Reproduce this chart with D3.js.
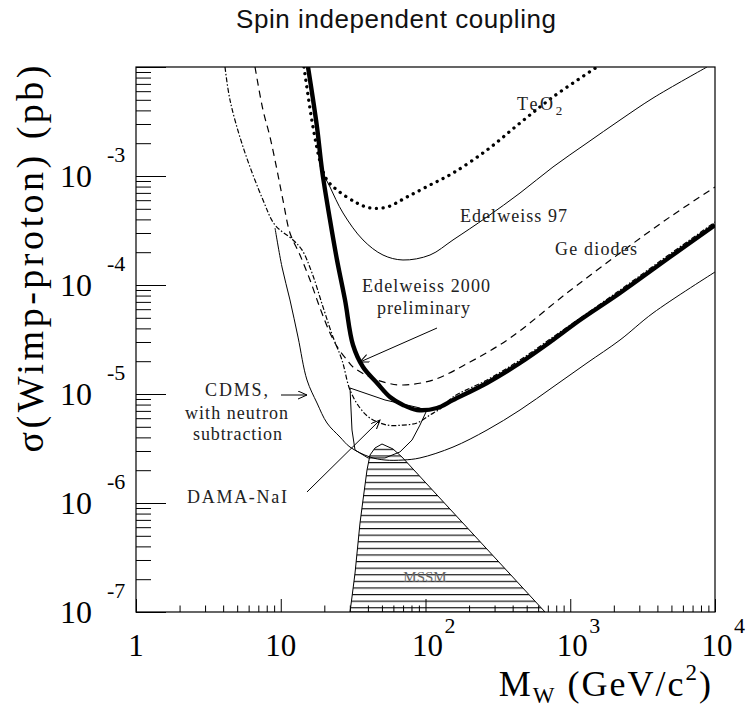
<!DOCTYPE html>
<html><head><meta charset="utf-8">
<script src="https://cdn.jsdelivr.net/npm/d3@7/dist/d3.min.js"></script>
<style>body{margin:0;background:#fff}svg{display:block}</style>
</head><body>
<svg id="c" width="753" height="711"></svg>
<script>
// ---------- data ----------
const massMajorTicks = [1, 10, 100, 1000, 10000];
const xTickLabels = [["1",""],["10",""],["10","2"],["10","3"],["10","4"]];
const sigmaMajorTicks = [1e-3, 1e-4, 1e-5, 1e-6, 1e-7];
const yTickLabels = [["10","-3"],["10","-4"],["10","-5"],["10","-6"],["10","-7"]];

// [WIMP mass (GeV/c^2), cross-section (pb)]
const teo2 = [[14.47,1e-2],[16.7,2.815e-3],[18.97,1.262e-3],[20.87,9.19e-4],[24.47,7.44e-4],[33.63,5.65e-4],[41.36,5.09e-4],[54.2,5.19e-4],[74.5,6.42e-4],[107.4,8.27e-4],[154.9,1.065e-3],[266,1.732e-3],[449.7,3.06e-3],[760,5.31e-3],[1530,1e-2]];
const edelweiss97 = [[15.18,1e-2],[17.52,2.815e-3],[19.59,1.088e-3],[21.89,7.93e-4],[26.92,4.58e-4],[37.01,2.59e-4],[50.86,1.884e-4],[69.9,1.696e-4],[107.4,1.884e-4],[154.9,2.59e-4],[266,4.21e-4],[449.7,6.98e-4],[760,1.21e-3],[1305,2.008e-3],[2207,3.26e-3],[3730,5.19e-3],[8806,1e-2]];
const geDiodes = [[6.64,1e-2],[7.54,4.03e-3],[8.43,2.28e-3],[9.42,1.135e-3],[10.36,6.02e-4],[11.58,3.0e-4],[13.58,1.884e-4],[15.93,1.111e-4],[18.67,6.15e-5],[21.89,3.63e-5],[24.86,2.64e-5],[28.7,2.05e-5],[31.56,1.768e-5],[41.36,1.432e-5],[54.2,1.262e-5],[69.9,1.21e-5],[112.7,1.344e-5],[203,1.966e-5],[383.6,3.26e-5],[949.5,8.45e-5],[2207,1.966e-4],[4888,4.21e-4],[10000,7.93e-4]];
const edelweiss2000 = [[15.43,1e-2],[17.8,2.815e-3],[19.28,1.135e-3],[21.89,3.95e-4],[24.47,1.696e-4],[27.79,7.29e-5],[31.56,2.815e-5],[37.01,1.768e-5],[46.24,1.262e-5],[56.85,9.39e-6],[69.9,7.93e-6],[87.4,7.13e-6],[120.1,7.44e-6],[154.9,8.81e-6],[266,1.262e-5],[449.7,1.925e-5],[760,3.13e-5],[1168,4.77e-5],[2207,8.45e-5],[4888,1.806e-4],[10000,3.55e-4]];
const dashDotLimit = [[4.12,1e-2],[4.46,4.98e-3],[5.49,1.846e-3],[7.54,6.02e-4],[9.13,3.55e-4],[12.15,2.59e-4],[14.02,2.1e-4],[16.44,1.29e-4],[19.59,6.28e-5],[22.96,3.33e-5],[26.49,2.05e-5],[30.09,1.088e-5],[35.28,7.44e-6],[41.36,6.02e-6],[54.2,5.19e-6],[69.9,5.19e-6],[87.4,5.42e-6],[107.4,6.42e-6],[126,7.3e-6],[154.9,9.39e-6],[266,1.344e-5],[449.7,2.05e-5],[760,3.33e-5],[2207,8.99e-5],[4888,1.925e-4],[10000,3.78e-4]];
const cdmsNeutronSub = [[9.13,3.33e-4],[10.2,1.463e-4],[11.58,7.29e-5],[13.16,3.33e-5],[15.18,1.344e-5],[17.8,8.27e-6],[20.87,5.42e-6],[25.67,4.03e-6],[30.09,3.26e-6],[41.36,2.64e-6],[52.5,2.48e-6],[69.9,2.48e-6],[91.6,2.59e-6],[154.9,3.26e-6],[266,4.67e-6],[449.7,7.13e-6],[760,1.159e-5],[1305,1.925e-5],[2207,3.13e-5],[3730,5.53e-5],[10000,1.316e-4]];
const damaNaI = [[30.09,1.135e-5],[52.5,8.81e-6],[91.6,7.44e-6],[100.8,6.84e-6],[91.6,5.19e-6],[80.7,3.78e-6],[66.6,2.94e-6],[52.5,2.59e-6],[40.07,2.59e-6],[32.6,3.06e-6],[31.06,4.67e-6],[30.09,1.135e-5]];
const mssm = [[30.09,1e-7],[31.06,1.373e-7],[32.6,2.28e-7],[35.28,6.55e-7],[37.01,1.065e-6],[39.44,2.008e-6],[41.36,2.757e-6],[44.79,3.196e-6],[50.06,3.477e-6],[59.65,3.13e-6],[68.8,2.64e-6],[669.4,1e-7]];
// annotation arrows [from, to]
const arrowEdelweiss2000 = [[120.1,4.03e-5],[35.28,1.966e-5]];
const arrowCDMS = [[10.04,9.79e-6],[15.18,9.79e-6]];
const arrowDAMA = [[15.18,1.262e-6],[48.5,5.77e-6]];

// ---------- layout ----------
const L = 136, R = 715, T = 67, B = 612;
const svg = d3.select("#c");
const x = d3.scaleLog().domain([1, 1e4]).range([L, R]);
const y = d3.scaleLog().domain([1e-7, 1e-2]).range([B, T]);
const serif = "'Liberation Serif','Times New Roman',serif";

const defs = svg.append("defs");
defs.append("clipPath").attr("id","clip").append("rect")
  .attr("x",L).attr("y",T).attr("width",R-L).attr("height",B-T);
const pat = defs.append("pattern").attr("id","hatch").attr("patternUnits","userSpaceOnUse")
  .attr("width",10).attr("height",6.6);
pat.append("line").attr("x1",0).attr("x2",10).attr("y1",0.6).attr("y2",0.6)
  .attr("stroke","#000").attr("stroke-width",1.1);
defs.append("marker").attr("id","ah").attr("markerUnits","userSpaceOnUse")
  .attr("markerWidth",12).attr("markerHeight",12).attr("refX",9).attr("refY",4)
  .attr("orient","auto")
  .append("path").attr("d","M0,0 L9,4 L0,8").attr("fill","none").attr("stroke","#000").attr("stroke-width",1);

// title
svg.append("text").attr("x",236).attr("y",28)
  .attr("font-family","'Liberation Sans',Arial,sans-serif").attr("font-size",26)
  .attr("font-weight",300)
  .attr("textLength",320).attr("lengthAdjust","spacing").attr("fill","#111")
  .text("Spin independent coupling");

const g = svg.append("g").attr("clip-path","url(#clip)");

// MSSM region
g.append("path").datum(mssm)
  .attr("d", d3.line().x(d=>x(d[0])).y(d=>y(d[1])).curve(d3.curveLinearClosed))
  .attr("fill","url(#hatch)").attr("stroke","#000").attr("stroke-width",1);

const smooth = d3.line().x(d=>x(d[0])).y(d=>y(d[1])).curve(d3.curveCatmullRom.alpha(0.5));
const curves = [
  {data: dashDotLimit, w:1.2, dash:"5,2,1.5,2"},
  {data: geDiodes, w:1.2, dash:"7,5"},
  {data: cdmsNeutronSub, w:1},
  {data: edelweiss97, w:1},
  {data: damaNaI, w:1, linear:true},
  {data: teo2, w:3.3, dash:"0.1,6.6", cap:"round"},
  {data: edelweiss2000, w:4.4}
];
const lin = d3.line().x(d=>x(d[0])).y(d=>y(d[1]));
curves.forEach(c => {
  g.append("path").datum(c.data)
    .attr("d", c.linear ? lin : smooth)
    .attr("fill","none").attr("stroke","#000").attr("stroke-width",c.w)
    .attr("stroke-dasharray", c.dash || null)
    .attr("stroke-linecap", c.cap || "butt").attr("stroke-linejoin","round");
});

// arrows
[arrowEdelweiss2000, arrowCDMS, arrowDAMA].forEach(a => {
  svg.append("line").attr("x1",x(a[0][0])).attr("y1",y(a[0][1]))
    .attr("x2",x(a[1][0])).attr("y2",y(a[1][1]))
    .attr("stroke","#000").attr("stroke-width",1).attr("marker-end","url(#ah)");
});

// frame
svg.append("rect").attr("x",L).attr("y",T).attr("width",R-L).attr("height",B-T)
  .attr("fill","none").attr("stroke","#000").attr("stroke-width",1.2);

// axes (ticks inside)
const isMajor = v => Math.abs(Math.log10(v) - Math.round(Math.log10(v))) < 1e-9;
const yMinor = y.ticks().filter(v => !isMajor(v));
const yMajor = y.ticks().filter(v => isMajor(v));
const xMinor = x.ticks().filter(v => !isMajor(v));
const xMajor = x.ticks().filter(v => isMajor(v));
function styleAxis(sel){ sel.select(".domain").remove(); sel.selectAll("line").attr("stroke","#000").attr("stroke-width",1); sel.selectAll("text").remove(); }
svg.append("g").attr("transform",`translate(${L},0)`).call(d3.axisRight(y).tickValues(yMinor).tickSize(15).tickFormat("")).call(styleAxis);
svg.append("g").attr("transform",`translate(${L},0)`).call(d3.axisRight(y).tickValues(yMajor).tickSize(30).tickFormat("")).call(styleAxis);
svg.append("g").attr("transform",`translate(0,${B})`).call(d3.axisTop(x).tickValues(xMinor).tickSize(6.5).tickFormat("")).call(styleAxis);
svg.append("g").attr("transform",`translate(0,${B})`).call(d3.axisTop(x).tickValues(xMajor).tickSize(13).tickFormat("")).call(styleAxis);

// y tick labels
sigmaMajorTicks.forEach((v,i) => {
  const py = y(v);
  svg.append("text").attr("x",92).attr("y",py+11).attr("text-anchor","end")
    .attr("font-family",serif).attr("font-size",32).text(yTickLabels[i][0]);
  svg.append("text").attr("x",107).attr("y",py-14)
    .attr("font-family",serif).attr("font-size",22).text(yTickLabels[i][1]);
});
// x tick labels
massMajorTicks.forEach((v,i) => {
  const px = x(v) + (i>=2 ? 2 : 0);
  svg.append("text").attr("x",px).attr("y",656).attr("text-anchor","middle")
    .attr("font-family",serif).attr("font-size",31).text(xTickLabels[i][0]);
  if (xTickLabels[i][1]) svg.append("text").attr("x",px+17).attr("y",633)
    .attr("font-family",serif).attr("font-size",22).text(xTickLabels[i][1]);
});

// axis titles
const xt = svg.append("text").attr("x",713).attr("y",696).attr("text-anchor","end")
  .attr("font-family",serif).attr("font-size",36).attr("letter-spacing",2);
xt.append("tspan").text("M");
xt.append("tspan").attr("font-size",23).attr("dy",7).text("W");
xt.append("tspan").attr("dy",-7).text(" (GeV/c");
xt.append("tspan").attr("font-size",23).attr("dy",-16).text("2");
xt.append("tspan").attr("dy",16).text(")");

svg.append("text").attr("transform","translate(43,259) rotate(-90)")
  .attr("text-anchor","middle").attr("font-family",serif).attr("font-size",38)
  .attr("textLength",387).attr("lengthAdjust","spacing")
  .text("σ(Wimp-proton) (pb)");

// annotations
const notes = [
  {t:"Edelweiss 97", x:460, y:222, len:107},
  {t:"Ge diodes", x:555, y:255, len:82},
  {t:"Edelweiss 2000", x:362, y:292, len:128},
  {t:"preliminary", x:377, y:314, len:93},
  {t:"CDMS,", x:205, y:396, len:63},
  {t:"with neutron", x:185, y:419, len:103},
  {t:"subtraction", x:193, y:440, len:89},
  {t:"DAMA-NaI", x:187, y:503, len:100}
];
notes.forEach(n => svg.append("text").attr("x",n.x).attr("y",n.y)
  .attr("font-family",serif).attr("font-size",18).attr("fill","#222")
  .attr("textLength",n.len).attr("lengthAdjust","spacing").text(n.t));
const te = svg.append("text").attr("x",517).attr("y",110).attr("font-family",serif).attr("font-size",18).attr("fill","#222");
te.append("tspan").attr("textLength",36).text("TeO");
te.append("tspan").attr("font-size",13).attr("dy",5).text("2");
svg.append("text").attr("x",425).attr("y",582).attr("text-anchor","middle")
  .attr("font-family",serif).attr("font-size",15).attr("fill","#666").text("MSSM");
</script>
</body></html>
